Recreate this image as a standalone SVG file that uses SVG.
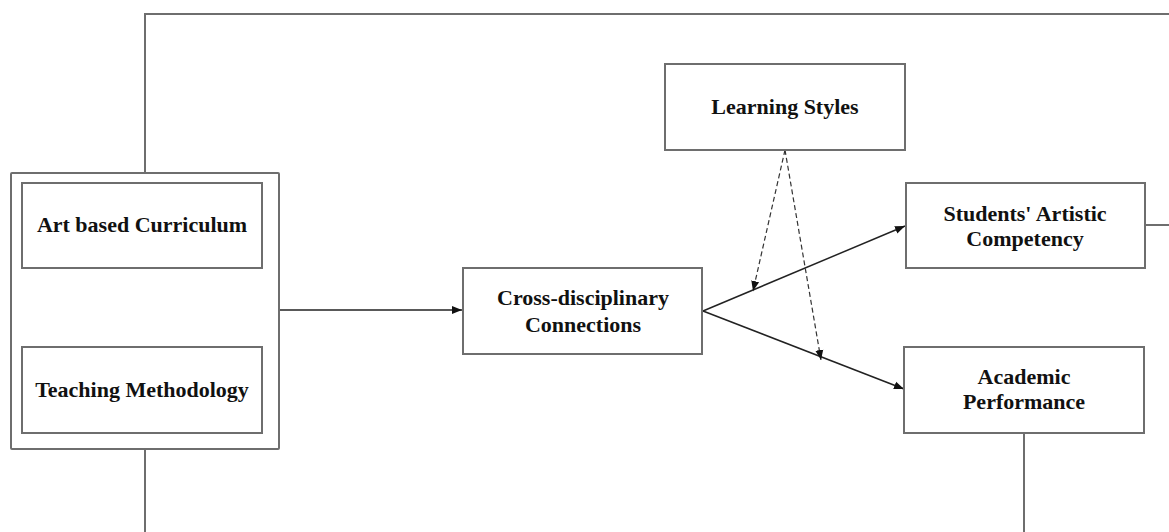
<svg xmlns="http://www.w3.org/2000/svg" width="1169" height="532" viewBox="0 0 1169 532">
<style>
.box{fill:#fff;stroke:#6e6e6e;stroke-width:2}
.t{font-family:"Liberation Serif","Times New Roman",serif;font-weight:bold;font-size:22px;fill:#111;text-anchor:middle}
.ln{fill:none;stroke:#6e6e6e;stroke-width:2}
.ar{fill:none;stroke:#222;stroke-width:1.5}
.ds{fill:none;stroke:#333;stroke-width:1.2;stroke-dasharray:5,3}
</style>
<defs>
<marker id="ah" viewBox="0 0 10 10" refX="10" refY="5" markerWidth="10" markerHeight="10" markerUnits="userSpaceOnUse" orient="auto">
<path d="M0,1 L10,5 L0,9 Z" fill="#111"/>
</marker>
</defs>
<g id="connectors">
<polyline class="ln" points="145,173 145,14 1169,14"/>
<line class="ln" x1="145" y1="449" x2="145" y2="532"/>
<line class="ln" x1="1145" y1="225" x2="1169" y2="225"/>
<line class="ln" x1="1024" y1="433" x2="1024" y2="532"/>
<line class="ar" x1="280" y1="310" x2="462" y2="310" marker-end="url(#ah)"/>
<line class="ar" x1="703" y1="311" x2="905" y2="226" marker-end="url(#ah)"/>
<line class="ar" x1="703" y1="311" x2="904" y2="389" marker-end="url(#ah)"/>
<line class="ds" x1="785" y1="150" x2="753" y2="291" marker-end="url(#ah)"/>
<line class="ds" x1="785" y1="150" x2="821" y2="360" marker-end="url(#ah)"/>
</g>
<g id="group-box">
<rect class="box" x="11" y="173" width="268" height="276" rx="1"/>
</g>
<g id="art-curriculum">
<rect class="box" x="22" y="183" width="240" height="85"/>
<text class="t" x="142" y="232">Art based Curriculum</text>
</g>
<g id="teaching-methodology">
<rect class="box" x="22" y="347" width="240" height="86"/>
<text class="t" x="142" y="397">Teaching Methodology</text>
</g>
<g id="cross-disciplinary">
<rect class="box" x="463" y="268" width="239" height="86"/>
<text class="t" x="583" y="305">Cross-disciplinary</text>
<text class="t" x="583" y="332">Connections</text>
</g>
<g id="learning-styles">
<rect class="box" x="665" y="64" width="240" height="86"/>
<text class="t" x="785" y="114">Learning Styles</text>
</g>
<g id="artistic-competency">
<rect class="box" x="906" y="183" width="239" height="85"/>
<text class="t" x="1025" y="221">Students' Artistic</text>
<text class="t" x="1025" y="246">Competency</text>
</g>
<g id="academic-performance">
<rect class="box" x="904" y="347" width="240" height="86"/>
<text class="t" x="1024" y="384">Academic</text>
<text class="t" x="1024" y="409">Performance</text>
</g>
</svg>
